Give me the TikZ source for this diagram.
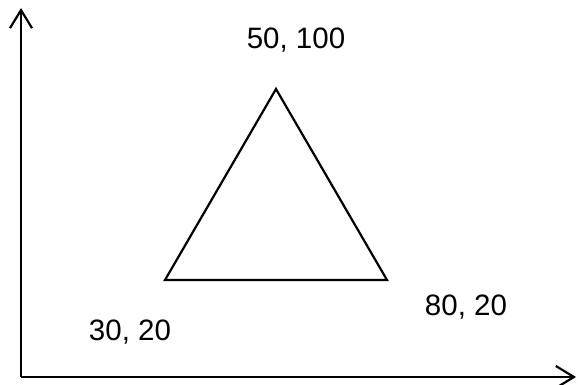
\documentclass[tikz,border=0pt]{standalone}
\usepackage{fontspec}
\setmainfont{Liberation Sans}
\usepackage{tikz}
\usetikzlibrary{arrows.meta}

\tikzset{
    axis/.style={line width=2.2pt, -{Straight Barb[length=18pt, width=22pt, line width=2.2pt]}},
    vlabel/.style={font=\fontsize{29.5}{35}\selectfont}
}

\begin{document}
\begin{tikzpicture}[x=1pt, y=-1pt]
        \useasboundingbox (0,0) rectangle (578,385);
        % axes
        \coordinate (origin) at (21,377);
        \coordinate (ytip) at (21,8);
        \coordinate (xtip) at (576,377);
        \draw[axis] (origin) -- (ytip);
        \draw[axis] (origin) -- (xtip);
        % triangle
        \coordinate (top) at (276,89);
        \coordinate (bl) at (165,280);
        \coordinate (br) at (387,280);
        \draw[line width=2.2pt, line join=miter] (top) -- (bl) -- (br) -- cycle;
        \node[vlabel] (toplab) at (296,40) {50, 100};
        \node[vlabel] (bllab) at (130,332) {30, 20};
        \node[vlabel] (brlab) at (466,307) {80, 20};
    \end{tikzpicture}
\end{document}
